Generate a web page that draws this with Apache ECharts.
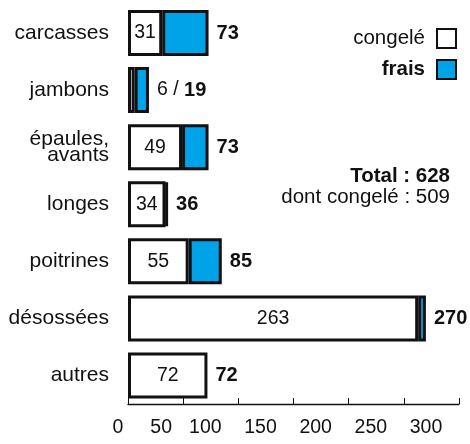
<!DOCTYPE html>
<html>
<head>
<meta charset="utf-8">
<script src="https://cdn.jsdelivr.net/npm/echarts@6/dist/echarts.min.js"></script>
<style>
  html, body { margin: 0; padding: 0; background: #fff; }
  #chart { width: 470px; height: 444px; }
</style>
</head>
<body>
<div id="chart"></div>
<script>
const categories = ['carcasses', 'jambons', 'épaules,\navants', 'longes', 'poitrines', 'désossées', 'autres'];
const congele = [31, 6, 49, 34, 55, 263, 72];
const frais = [42, 13, 24, 2, 30, 7, 0];
const totals = [73, 19, 73, 36, 85, 270, 72];
const xTicks = [0, 50, 100, 150, 200, 250, 300];
const grandTotal = 628;
const totalCongele = 509;

const FONT = '"Liberation Sans", Arial, sans-serif';
const BLUE = '#00a2e8';
const INK = '#111';

// the original prints the x labels left of their ticks
const shift = { 0: 20, 50: 44 };
const rich = {};
xTicks.forEach(v => {
  rich['t' + v] = { fontSize: 19.5, fontFamily: FONT, color: INK, padding: [0, shift[v] !== undefined ? shift[v] : 66, 0, 0] };
});

const chart = echarts.init(document.getElementById('chart'));

chart.setOption({
  animation: false,
  textStyle: { fontFamily: FONT },
  grid: { left: 128, right: 11, top: 4.5, bottom: 40 },
  legend: {
    orient: 'vertical',
    right: 13,
    top: 28,
    padding: 0,
    align: 'right',
    itemWidth: 19,
    itemHeight: 19,
    itemGap: 10,
    icon: 'rect',
    selectedMode: false,
    itemStyle: { borderColor: INK, borderWidth: 2 },
    textStyle: { fontSize: 20.5, color: INK, fontFamily: FONT, padding: [0, 7, 0, 0] },
    data: [
      { name: 'congelé', textStyle: { fontWeight: 'normal' } },
      { name: 'frais', textStyle: { fontWeight: 'bold' } },
    ],
  },
  xAxis: {
    type: 'value',
    min: 0,
    max: 300,
    interval: 50,
    splitLine: { show: false },
    axisLine: { show: true, lineStyle: { color: INK, width: 1.3 } },
    axisTick: { show: true, inside: true, length: 6, lineStyle: { color: INK } },
    axisLabel: {
      margin: 14,
      formatter: v => '{t' + v + '|' + v + '}',
      rich: rich,
    },
  },
  yAxis: {
    type: 'category',
    inverse: true,
    data: categories,
    axisLine: { show: false },
    axisTick: { show: false },
    axisLabel: { fontSize: 21, color: INK, fontFamily: FONT, margin: 19, lineHeight: 16, align: 'right' },
  },
  series: [
    {
      name: 'congelé',
      type: 'bar',
      stack: 'tot',
      barWidth: 46,
      itemStyle: { color: '#fff', borderColor: INK, borderWidth: 3 },
      data: congele.map(v => ({
        value: v,
        label: { show: v >= 20 },
      })),
      label: { position: 'inside', fontSize: 19.5, color: INK, fontFamily: FONT },
    },
    {
      name: 'frais',
      type: 'bar',
      stack: 'tot',
      barWidth: 46,
      itemStyle: { color: BLUE, borderColor: INK, borderWidth: 3 },
      data: frais.map(v => (v === 0 ? { value: v, itemStyle: { borderWidth: 0 } } : v)),
      label: {
        show: true,
        position: 'right',
        distance: 8,
        formatter: p => {
          const i = p.dataIndex;
          if (congele[i] < 20) return '{n|' + congele[i] + ' / }{b|' + totals[i] + '}';
          return '{b|' + totals[i] + '}';
        },
        rich: {
          n: { fontSize: 19.5, color: INK, fontFamily: FONT },
          b: { fontSize: 20, color: INK, fontFamily: FONT, fontWeight: 'bold' },
        },
      },
    },
  ],
  graphic: [
    {
      type: 'text',
      right: 20,
      top: 166,
      style: { text: 'Total : ' + grandTotal, font: 'bold 20.5px ' + FONT, fill: INK },
    },
    {
      type: 'text',
      right: 20,
      top: 187,
      style: { text: 'dont congelé : ' + totalCongele, font: '20.5px ' + FONT, fill: INK },
    },
  ],
});
</script>
</body>
</html>
